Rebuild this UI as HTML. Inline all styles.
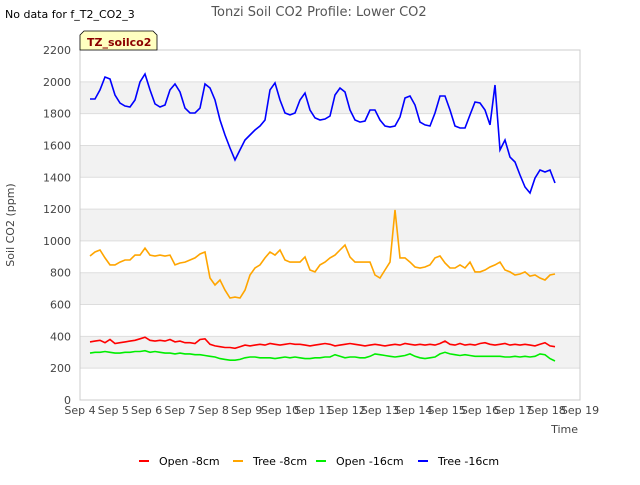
<!DOCTYPE html>
<html><head><meta charset="utf-8"><style>
body{margin:0;background:#fff;font-family:"Liberation Sans","DejaVu Sans",sans-serif;}
svg text{font-family:"DejaVu Sans","Liberation Sans",sans-serif;}
</style></head><body>
<svg id="c" width="640" height="480" xmlns="http://www.w3.org/2000/svg">
<text x="5" y="18" font-size="11" fill="#000">No data for f_T2_CO2_3</text>
<text x="319" y="16" font-size="13" fill="#555" text-anchor="middle">Tonzi Soil CO2 Profile: Lower CO2</text>
<g id="bands"></g>
<g id="grid"></g>
<rect x="80" y="50" width="500" height="350" fill="none" stroke="#ccc"/>
<g id="yt"></g><g id="xt"></g>
<g id="lines"></g>
<text x="14" y="225" font-size="11" fill="#444" text-anchor="middle" transform="rotate(-90 14 225)">Soil CO2 (ppm)</text>
<text x="578" y="433" font-size="11" fill="#444" text-anchor="end">Time</text>
<g>
<path d="M80,50 L80,35 L84,31 L153,31 L157,35 L157,50 Z" fill="#ffffc0" stroke="#000" stroke-width="0.8"/>
<text x="87" y="46" font-size="11" font-weight="bold" fill="#8b0000">TZ_soilco2</text>
</g>
<g id="legend"></g>
</svg>
<script>
const seriesNames=["Open -8cm","Tree -8cm","Open -16cm","Tree -16cm"];
const seriesColors=["#ff0000","#ffa500","#00ee00","#0000ff"];
const startDay=0.3, stepDay=0.15;
const xTickLabels=["Sep 4","Sep 5","Sep 6","Sep 7","Sep 8","Sep 9","Sep 10","Sep 11","Sep 12","Sep 13","Sep 14","Sep 15","Sep 16","Sep 17","Sep 18","Sep 19"];
const yTicks=[0,200,400,600,800,1000,1200,1400,1600,1800,2000,2200];
const open8=[365,370,375,360,380,355,360,365,370,375,385,395,375,370,375,370,380,365,370,360,360,355,380,385,350,340,335,330,330,325,335,345,340,345,350,345,355,350,345,350,355,350,350,345,340,345,350,355,350,340,345,350,355,350,345,340,345,350,345,340,345,350,345,355,350,345,350,345,350,345,355,370,350,345,355,345,350,345,355,360,350,345,350,355,345,350,345,350,345,340,350,360,340,335];
const tree8=[905,930,943,893,849,849,867,880,880,911,911,955,911,905,911,905,911,849,861,867,880,893,918,930,767,723,754,691,641,647,641,691,786,830,849,893,930,911,943,880,867,867,867,899,817,805,849,867,893,911,943,974,899,867,867,867,867,786,767,817,867,1194,893,893,867,836,830,836,849,893,905,861,830,830,849,830,867,805,805,817,836,849,867,817,805,786,792,805,779,786,767,754,786,792];
const open16=[295,300,300,305,300,295,295,300,300,305,305,310,300,305,300,295,295,290,295,290,290,285,285,280,275,270,260,255,250,250,255,265,270,270,265,265,265,260,265,270,265,270,265,260,260,265,265,270,270,285,275,265,270,270,265,265,275,290,285,280,275,270,275,280,290,275,265,260,265,270,290,300,290,285,280,285,280,275,275,275,275,275,275,270,270,275,270,275,270,275,290,285,260,245];
const tree16=[1892,1892,1949,2030,2018,1917,1867,1848,1842,1886,1999,2049,1949,1861,1842,1854,1949,1986,1936,1835,1804,1804,1835,1986,1961,1886,1760,1666,1584,1509,1572,1634,1666,1697,1722,1760,1949,1993,1886,1804,1792,1804,1886,1930,1823,1773,1760,1766,1785,1917,1961,1936,1823,1760,1747,1754,1823,1823,1760,1722,1716,1722,1779,1898,1911,1854,1747,1729,1722,1804,1911,1911,1823,1722,1710,1710,1792,1873,1867,1823,1729,1980,1572,1634,1527,1496,1414,1339,1301,1395,1446,1433,1446,1364];
const NS="http://www.w3.org/2000/svg";
const X0=80,X1=580,Y0=400,Y1=50;
function xs(d){return X0+d*(X1-X0)/15;}
function ys(v){return Y0-v*(Y0-Y1)/2200;}
function mk(tag,parent){const e=document.createElementNS(NS,tag);document.getElementById(parent).appendChild(e);return e;}
for(let i=0;i<yTicks.length-1;i++){
  if(i%2===1){const r=mk('rect','bands');
    
    
    r.setAttribute('x',X0);r.setAttribute('width',X1-X0);r.setAttribute('y',ys(yTicks[i+1]));r.setAttribute('height',ys(yTicks[i])-ys(yTicks[i+1]));r.setAttribute('fill','#f2f2f2');}
}
yTicks.forEach(v=>{
  const l=mk('line','grid');
  
  
  l.setAttribute('x1',X0);l.setAttribute('x2',X1);l.setAttribute('y1',ys(v));l.setAttribute('y2',ys(v));l.setAttribute('stroke','#ddd');
  const t=mk('text','yt');
  
  
  t.setAttribute('x',71);t.setAttribute('y',ys(v)+4);t.setAttribute('text-anchor','end');t.setAttribute('font-size','11');t.setAttribute('fill','#444');t.textContent=v;
});
xTickLabels.forEach((s,i)=>{
  const t=mk('text','xt');
  
  
  t.setAttribute('x',xs(i));t.setAttribute('y',414);t.setAttribute('text-anchor','middle');t.setAttribute('font-size','11');t.setAttribute('fill','#444');t.textContent=s;
});
[open8,tree8,open16,tree16].forEach((arr,k)=>{
  const p=mk('polyline','lines');
  
  
  p.setAttribute('points',arr.map((v,i)=>xs(startDay+i*stepDay).toFixed(1)+','+ys(v).toFixed(1)).join(' '));
  p.setAttribute('fill','none');p.setAttribute('stroke',seriesColors[k]);p.setAttribute('stroke-width','1.6');
});
const lx=[139,233,316,418];
seriesNames.forEach((n,k)=>{
  const g=mk('g','legend');
  
  
  const l=document.createElementNS(NS,'line');l.setAttribute('x1',lx[k]);l.setAttribute('x2',lx[k]+10);l.setAttribute('y1',461);l.setAttribute('y2',461);l.setAttribute('stroke',seriesColors[k]);l.setAttribute('stroke-width','2');g.appendChild(l);
  const t=document.createElementNS(NS,'text');t.setAttribute('x',lx[k]+20);t.setAttribute('y',465);t.setAttribute('font-size','11');t.setAttribute('fill','#000');t.textContent=n;g.appendChild(t);
});
</script>
</body></html>
